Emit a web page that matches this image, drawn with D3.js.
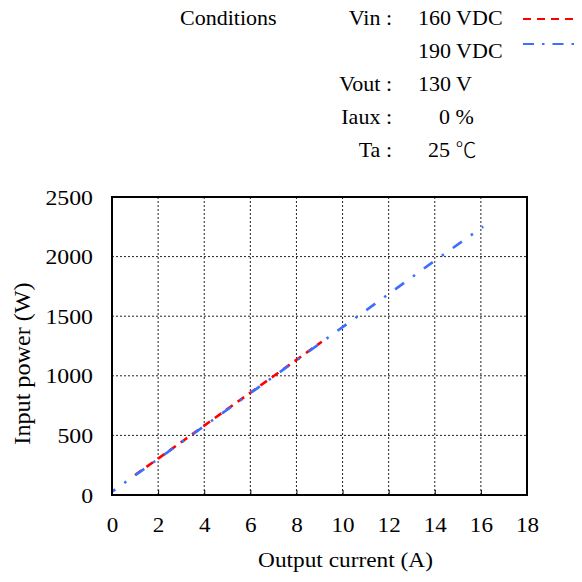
<!DOCTYPE html>
<html>
<head>
<meta charset="utf-8">
<script src="https://cdn.jsdelivr.net/npm/d3@7"></script>
<style>
  html, body { margin: 0; padding: 0; background: #fff; }
  svg text { font-family: "Liberation Serif", "Times New Roman", serif; fill: #000; }
</style>
</head>
<body>
<svg id="chart" width="582" height="582"></svg>
<script>
// Input power vs output current, two input voltages
const current160 = [1, 2, 3, 4, 5, 6, 7, 8, 9.1];
const power160   = [168, 305, 443, 582, 720, 858, 996, 1134, 1286];

const current190 = [0, 2, 4, 6, 8, 10, 12, 14, 16.1];
const power190   = [28, 302, 578, 854, 1130, 1408, 1686, 1966, 2251];

const xTicks = [0, 2, 4, 6, 8, 10, 12, 14, 16, 18];
const yTicks = [0, 500, 1000, 1500, 2000, 2500];

const conditionLabels = ["Vin :", "", "Vout :", "Iaux :", "Ta :"];
const conditionValues = ["160 VDC", "190 VDC", "130 V", "0 %", "25 "];

const svg = d3.select("#chart");
const plot = { left: 112, right: 527, top: 197, bottom: 495 };

const x = d3.scaleLinear().domain([0, 18]).range([plot.left, plot.right]);
const y = d3.scaleLinear().domain([0, 2500]).range([plot.bottom, plot.top]);

// widen glyphs a little along the baseline
function stretch(sel, k) {
  sel.each(function () {
    const len = this.getComputedTextLength();
    d3.select(this).attr("textLength", len * k).attr("lengthAdjust", "spacingAndGlyphs");
  });
}

// grid
const grid = svg.append("g");
grid.selectAll("line.v").data(xTicks.slice(1, -1)).join("line")
  .attr("x1", d => x(d)).attr("x2", d => x(d))
  .attr("y1", plot.top).attr("y2", plot.bottom)
  .attr("stroke", "#222").attr("stroke-width", 1).attr("stroke-dasharray", "2,2");
grid.selectAll("line.h").data(yTicks.slice(1, -1)).join("line")
  .attr("x1", plot.left).attr("x2", plot.right)
  .attr("y1", d => y(d)).attr("y2", d => y(d))
  .attr("stroke", "#222").attr("stroke-width", 1).attr("stroke-dasharray", "2,2");

// axes
const xAxis = d3.axisBottom(x).tickValues(xTicks).tickSize(-5).tickPadding(21).tickFormat(d3.format("d"));
const yAxis = d3.axisLeft(y).tickValues(yTicks).tickSize(0).tickPadding(19).tickFormat(d3.format("d"));

const gx = svg.append("g").attr("transform", `translate(0,${plot.bottom})`).call(xAxis);
gx.select(".domain").remove();
gx.selectAll("text").style("font-size", "22px").attr("dy", "0.71em");
gx.selectAll(".tick line").attr("stroke", "#000").attr("stroke-width", 1);
stretch(gx.selectAll("text"), 1.05);

const gy = svg.append("g").attr("transform", `translate(${plot.left},0)`).call(yAxis);
gy.select(".domain").remove();
gy.selectAll("text").style("font-size", "22px");
stretch(gy.selectAll("text"), 1.08);

// series
const line = d3.line().x(d => x(d[0])).y(d => y(d[1]));
const data160 = d3.zip(current160, power160);
const data190 = d3.zip(current190, power190);

svg.append("path").datum(data160).attr("d", line)
  .attr("fill", "none").attr("stroke", "#ff0000").attr("stroke-width", 2.6)
  .attr("stroke-dasharray", "8,6");
svg.append("path").datum(data190).attr("d", line)
  .attr("fill", "none").attr("stroke", "#3a6fff").attr("stroke-width", 2.6)
  .attr("stroke-dasharray", "11,11,2.5,11")
  .attr("stroke-dashoffset", 7);

// frame
svg.append("rect")
  .attr("x", plot.left).attr("y", plot.top)
  .attr("width", plot.right - plot.left).attr("height", plot.bottom - plot.top)
  .attr("fill", "none").attr("stroke", "#000").attr("stroke-width", 2);

// axis titles
const xTitle = svg.append("text")
  .attr("x", 345.5).attr("y", 567)
  .attr("text-anchor", "middle").style("font-size", "22px")
  .text("Output current (A)");
stretch(xTitle, 1.06);
const yTitle = svg.append("text")
  .attr("transform", "translate(30,363.5) rotate(-90)")
  .attr("text-anchor", "middle").style("font-size", "23px")
  .text("Input power (W)");
stretch(yTitle, 1.05);

// conditions block
const rowY = [25, 58, 91, 124, 157];
svg.append("text").attr("x", 180).attr("y", rowY[0]).style("font-size", "22px").text("Conditions");
svg.selectAll("text.clabel").data(conditionLabels).join("text")
  .attr("class", "clabel")
  .attr("x", 392).attr("y", (d, i) => rowY[i])
  .attr("text-anchor", "end").style("font-size", "22px")
  .text(d => d);
const vals = svg.selectAll("text.cval").data(conditionValues).join("text")
  .attr("class", "cval")
  .attr("x", (d, i) => i === 3 ? 439 : i === 4 ? 428 : 418)
  .attr("y", (d, i) => rowY[i])
  .style("font-size", "22px")
  .style("white-space", "pre")
  .text(d => d);
// degree-Celsius sign on the temperature row
vals.filter((d, i) => i === 4).append("tspan")
  .style("font-family", "'Noto Sans CJK JP', sans-serif")
  .style("font-weight", "300")
  .style("font-size", "21px")
  .text("\u2103");

// legend swatches
svg.append("line").attr("x1", 523).attr("x2", 577).attr("y1", 19).attr("y2", 19)
  .attr("stroke", "#ff0000").attr("stroke-width", 2.2).attr("stroke-dasharray", "8,6");
svg.append("line").attr("x1", 523).attr("x2", 580).attr("y1", 44).attr("y2", 44)
  .attr("stroke", "#3a6fff").attr("stroke-width", 2).attr("stroke-dasharray", "11,8,2.5,8");
</script>
</body>
</html>
